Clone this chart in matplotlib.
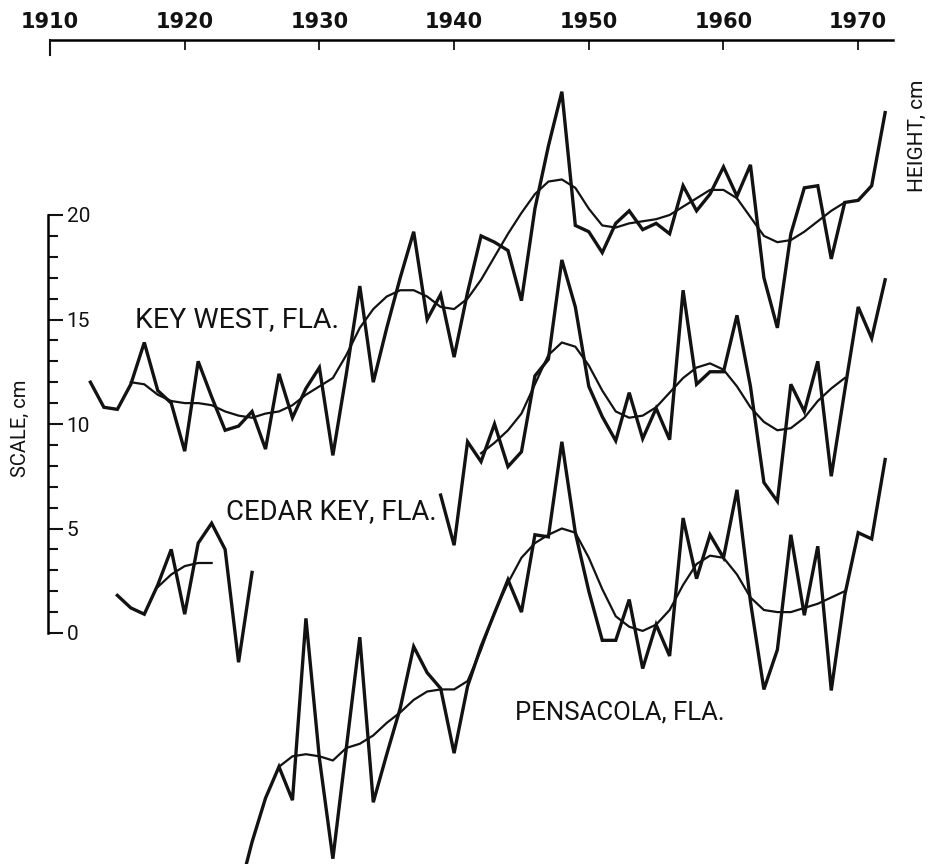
import matplotlib
matplotlib.use("Agg")
import matplotlib.pyplot as plt
import numpy as np

# ---------------- data (cm) ----------------
kw_years = list(range(1913, 1973))
kw_raw = [12.0, 10.8, 10.7, 11.9, 13.9, 11.6, 11.0, 8.7, 13.0, 11.3,
          9.7, 9.9, 10.6, 8.8, 12.4, 10.3, 11.7, 12.7, 8.5, 12.4,
          16.6, 12.0, 14.6, 17.0, 19.2, 15.0, 16.2, 13.2, 16.3, 19.0,
          18.7, 18.3, 15.9, 20.3, 23.3, 25.9, 19.5, 19.2, 18.2, 19.6,
          20.2, 19.3, 19.6, 19.1, 21.4, 20.2, 21.0, 22.3, 20.9, 22.4,
          17.0, 14.6, 19.1, 21.3, 21.4, 17.9, 20.6, 20.7, 21.4, 24.9]
kw_smooth_years = list(range(1916, 1970))
kw_smooth = [12.0, 11.9, 11.4, 11.1, 11.0, 11.0, 10.9, 10.6, 10.4, 10.3,
             10.5, 10.6, 10.9, 11.4, 11.8, 12.2, 13.3, 14.6, 15.5, 16.1,
             16.4, 16.4, 16.1, 15.6, 15.5, 16.0, 16.9, 18.0, 19.1, 20.1,
             21.0, 21.6, 21.7, 21.3, 20.3, 19.5, 19.4, 19.6, 19.7, 19.8,
             20.0, 20.4, 20.8, 21.2, 21.2, 20.8, 19.9, 19.0, 18.7, 18.8,
             19.2, 19.7, 20.2, 20.6]

ck_early_years = list(range(1915, 1926))
ck_early_raw = [1.8, 1.2, 0.9, 2.3, 4.0, 0.9, 4.3, 5.25, 4.0, -1.4, 2.9]
ck_early_smooth_years = list(range(1918, 1923))
ck_early_smooth = [2.2, 2.8, 3.2, 3.35, 3.35]

ck_years = list(range(1939, 1973))
ck_raw = [6.6, 4.2, 9.15, 8.2, 10.0, 7.96, 8.67, 12.3, 13.1, 17.85,
          15.6, 11.8, 10.35, 9.2, 11.5, 9.3, 10.75, 9.25, 16.4, 11.9,
          12.5, 12.5, 15.2, 11.8, 7.2, 6.3, 11.9, 10.6, 13.0, 7.5,
          11.6, 15.6, 14.1, 16.9]
ck_smooth_years = list(range(1942, 1970))
ck_smooth = [8.6, 9.1, 9.7, 10.5, 11.9, 13.3, 13.9, 13.7, 12.8, 11.6,
             10.6, 10.3, 10.4, 10.8, 11.5, 12.2, 12.7, 12.9, 12.6, 11.8,
             10.8, 10.1, 9.7, 9.8, 10.3, 11.1, 11.7, 12.2]

pe_years = list(range(1924, 1973))
pe_raw = [-12.5, -10.0, -7.9, -6.4, -8.0, 0.7, -6.0, -10.8, -5.5, -0.2,
          -8.1, -5.8, -3.6, -0.65, -1.9, -2.65, -5.75, -2.55, -0.65, 0.95,
          2.55, 1.0, 4.7, 4.6, 9.15, 4.8, 2.0, -0.35, -0.35, 1.6,
          -1.7, 0.4, -1.1, 5.5, 2.6, 4.7, 3.6, 6.85, 1.5, -2.7,
          -0.8, 4.7, 0.85, 4.15, -2.75, 1.8, 4.8, 4.5, 8.3]
pe_smooth_years = list(range(1927, 1970))
pe_smooth = [-6.4, -5.9, -5.8, -5.9, -6.1, -5.5, -5.3, -4.9, -4.3, -3.8,
             -3.2, -2.8, -2.7, -2.7, -2.3, -0.8, 1.0, 2.4, 3.6, 4.3,
             4.7, 5.0, 4.8, 3.6, 2.1, 0.8, 0.3, 0.1, 0.4, 1.1,
             2.3, 3.3, 3.7, 3.6, 2.8, 1.7, 1.1, 1.0, 1.0, 1.2,
             1.4, 1.7, 2.0]

year_ticks = [1910, 1920, 1930, 1940, 1950, 1960, 1970]
scale_ticks = [0, 5, 10, 15, 20]

station_labels = ["KEY WEST, FLA.", "CEDAR KEY, FLA.", "PENSACOLA, FLA."]
label_x = [1916.3, 1923.1, 1944.5]
label_y = [15.0, 5.8, -3.8]
label_size = [20.5, 19.8, 18.5]

# ---------------- figure ----------------
NARROW = ["Roboto", "DejaVu Sans"]
INK = "#121212"
W, H = 931, 864
PXY = 13.47          # pixels per year
PXC = 20.9           # pixels per cm
fig = plt.figure(figsize=(W / 100, H / 100), dpi=100)
top_px = 40
ax = fig.add_axes([0, 0, 1, (H - top_px) / H])
ax.set_xlim(1910 - 50 / PXY, 1910 + (W - 50) / PXY)
ax.set_ylim(-(H - 633) / PXC, (633 - top_px) / PXC)

raw_kw = dict(color=INK, lw=2.4, solid_joinstyle="miter", zorder=3)
sm_kw = dict(color=INK, lw=1.6, zorder=2)

ax.plot(kw_years, kw_raw, **raw_kw)
ax.plot(kw_smooth_years, kw_smooth, **sm_kw)
ax.plot(ck_early_years, ck_early_raw, **raw_kw)
ax.plot(ck_early_smooth_years, ck_early_smooth, **sm_kw)
ax.plot(ck_years, ck_raw, **raw_kw)
ax.plot(ck_smooth_years, ck_smooth, **sm_kw)
ax.plot(pe_years, pe_raw, **raw_kw)
ax.plot(pe_smooth_years, pe_smooth, **sm_kw)

# spines / axes
ax.spines["left"].set_visible(False)
ax.spines["bottom"].set_visible(False)
ax.spines["top"].set_bounds(1910, 1972.6)
ax.spines["top"].set_linewidth(1.8)
ax.spines["right"].set_position(("data", 1910 - 2 / PXY))
ax.spines["right"].set_bounds(0, 20)
ax.spines["right"].set_linewidth(1.8)

ax.xaxis.set_ticks_position("top")
ax.set_xticks(year_ticks)
ax.set_xticklabels([str(y) for y in year_ticks])
ax.tick_params(axis="x", direction="in", length=7.5, width=1.3, pad=6,
               labelsize=15, colors=INK)
for lab in ax.get_xticklabels():
    lab.set_fontweight("bold")
    lab.set_family("DejaVu Sans")

ax.yaxis.set_ticks_position("right")
ax.set_yticks(scale_ticks)
ax.set_yticklabels([str(v) for v in scale_ticks])
ax.set_yticks(np.arange(0, 21), minor=True)
ax.tick_params(axis="y", which="major", direction="out", length=10.5,
               width=1.5, pad=3, labelsize=15, colors=INK)
ax.tick_params(axis="y", which="minor", direction="out", length=7.5,
               width=1.5, colors=INK)
for lab in ax.get_yticklabels():
    lab.set_family(NARROW)

# longer corner tick at 1910
ytop = ax.get_ylim()[1]
ax.plot([1910, 1910], [ytop, ytop - 15 / PXC], color=INK, lw=1.5,
        clip_on=False, zorder=4)

for txt, x, y, fs in zip(station_labels, label_x, label_y, label_size):
    ax.text(x, y, txt, ha="left", va="center", fontsize=fs, family=NARROW,
            color=INK)

ax.text(1910 - 30 / PXY, 9.8, "SCALE, cm", rotation=90, ha="center",
        va="center", fontsize=14.5, family=NARROW, color=INK)
ax.text(1910 + 867 / PXY, 23.8, "HEIGHT, cm", rotation=90, ha="center",
        va="center", fontsize=15, family=NARROW, color=INK)

fig.savefig("out.png", dpi=100, facecolor="white")
